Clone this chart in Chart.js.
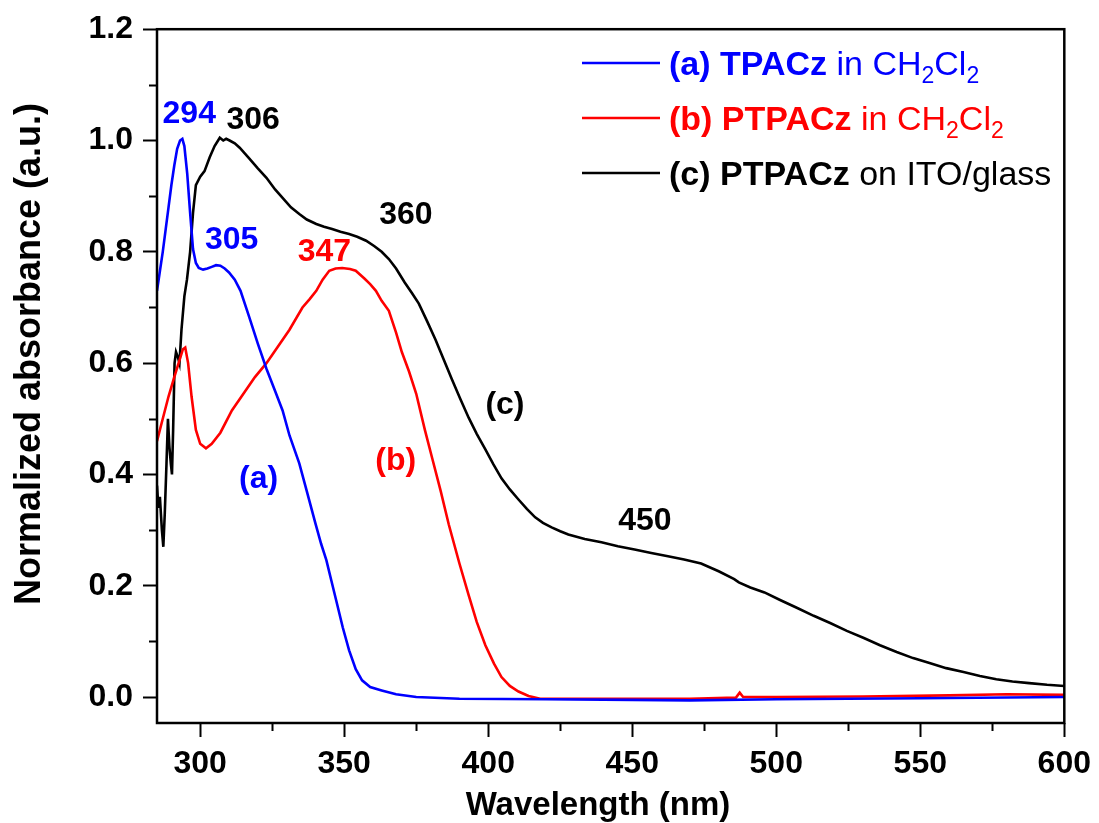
<!DOCTYPE html>
<html>
<head>
<meta charset="utf-8">
<script src="https://cdn.jsdelivr.net/npm/chart.js@4.4.1/dist/chart.umd.min.js"></script>
<style>
    html, body { margin: 0; padding: 0; background: #fff; }
    #wrap { width: 1099px; height: 823px; }
</style>
</head>
<body>
<div id="wrap"><canvas id="chart_abs" width="1099" height="823"></canvas></div>
<script>
// (a) TPACz in CH2Cl2
const wlA = [285, 286, 287, 288, 289, 290, 291, 292, 293, 293.8, 294.5, 295.5, 296.5, 297.5, 298.5, 299.5, 301, 302.5, 304, 305.5,
    307, 308.5, 310, 312, 314, 317, 320, 323, 326, 328.6, 331, 334.4, 337, 340, 342, 343.8, 345.5, 347.2, 349.5, 351.7,
    354, 356.2, 359, 363, 368, 375, 390, 420, 450, 470, 500, 550, 600];
const absA = [0.73, 0.765, 0.80, 0.84, 0.88, 0.92, 0.955, 0.985, 1.0, 1.003, 0.99, 0.94, 0.87, 0.805, 0.78, 0.771, 0.768, 0.77, 0.773, 0.776,
    0.775, 0.77, 0.763, 0.75, 0.73, 0.683, 0.635, 0.59, 0.55, 0.515, 0.47, 0.42, 0.37, 0.312, 0.275, 0.246, 0.21, 0.174, 0.125, 0.084,
    0.05, 0.03, 0.018, 0.012, 0.005, 0, -0.003, -0.004, -0.005, -0.006, -0.004, -0.002, 0];

// (b) PTPACz in CH2Cl2
const wlB = [285, 287, 289, 291, 292.5, 294, 294.8, 295.8, 297, 298.5, 300, 302, 304, 307, 311, 315, 319, 323, 327, 331,
    335.5, 338, 340.3, 342.5, 344.8, 347, 349.3, 352, 354, 357, 359, 361, 363, 365.5, 368, 370, 372.5, 375, 378, 380.5,
    383.5, 386.3, 390, 393.2, 396, 399, 402, 404.6, 407.5, 410.5, 414, 418, 440, 470, 486, 487.3, 488.5, 500, 530, 560,
    580, 600];
const absB = [0.46, 0.5, 0.54, 0.575, 0.6, 0.625, 0.628, 0.6, 0.54, 0.48, 0.455, 0.447, 0.455, 0.475, 0.515, 0.545, 0.575, 0.6, 0.63, 0.66,
    0.70, 0.715, 0.73, 0.75, 0.766, 0.77, 0.771, 0.769, 0.766, 0.752, 0.742, 0.73, 0.712, 0.694, 0.655, 0.62, 0.585, 0.545, 0.48, 0.43,
    0.37, 0.31, 0.24, 0.183, 0.135, 0.093, 0.06, 0.036, 0.02, 0.01, 0.002, -0.003, -0.003, -0.003, -0.001, 0.008, 0, 0, 0.001, 0.003,
    0.005, 0.004];

// (c) PTPACz on ITO/glass
const wlC = [285, 285.5, 286, 286.7, 287.2, 287.7, 288.3, 288.8, 289.3, 289.8, 290.2, 290.6, 291.1, 291.6, 292.3, 292.8, 293.5, 294.5, 295.4, 296.5,
    297.5, 298.5, 300, 301.5, 303.3, 305, 306.8, 308, 309, 310.2, 312, 313.7, 317, 320, 323, 326, 328.6, 331.5, 334.4, 337,
    340.3, 343, 345.8, 348.7, 351.7, 354.5, 357.6, 360.5, 363, 365.5, 368, 371, 373.5, 375.9, 378.8, 381.7, 384.5, 387.3, 390.2, 393.2,
    396, 399, 401.8, 404.6, 407.5, 410.5, 413.4, 416.3, 419, 422, 425, 427.8, 433.5, 439.3, 445, 450.8, 456.6, 462.4, 468, 473.9,
    480, 485.4, 487, 491, 495.9, 501.5, 507.3, 513, 518.7, 524.5, 530.4, 536, 541.8, 547.5, 553.2, 559, 565, 570.7, 576.4, 582,
    587.8, 594, 600];
const absC = [0.38, 0.34, 0.36, 0.30, 0.27, 0.33, 0.42, 0.50, 0.45, 0.42, 0.40, 0.48, 0.60, 0.62, 0.61, 0.60, 0.66, 0.72, 0.75, 0.80,
    0.87, 0.92, 0.935, 0.945, 0.97, 0.99, 1.005, 1.0, 1.003, 1.0, 0.995, 0.987, 0.968, 0.95, 0.933, 0.912, 0.897, 0.88, 0.868, 0.858,
    0.85, 0.845, 0.841, 0.836, 0.832, 0.827, 0.82, 0.81, 0.80, 0.787, 0.77, 0.745, 0.726, 0.707, 0.675, 0.642, 0.607, 0.572, 0.537, 0.502,
    0.473, 0.445, 0.418, 0.393, 0.373, 0.355, 0.338, 0.323, 0.313, 0.305, 0.298, 0.292, 0.284, 0.278, 0.271, 0.265, 0.259, 0.253, 0.247, 0.24,
    0.226, 0.212, 0.206, 0.197, 0.188, 0.174, 0.16, 0.146, 0.133, 0.119, 0.106, 0.093, 0.081, 0.07, 0.061, 0.052, 0.045, 0.038, 0.032, 0.028,
    0.025, 0.022, 0.02];

// axis ticks
const xTicks = [300, 350, 400, 450, 500, 550, 600];
const xMinor = [325, 375, 425, 475, 525, 575];
const yTicks = [0, 0.2, 0.4, 0.6, 0.8, 1.0, 1.2];
const yMinor = [0.1, 0.3, 0.5, 0.7, 0.9, 1.1];

// peak / curve labels (wavelength, absorbance)
const noteText = ['294', '306', '305', '347', '360', '(c)', '(a)', '(b)', '450'];
const noteX = [296.2, 318.4, 310.9, 343.1, 371.4, 405.8, 320.3, 367.9, 454.4];
const noteY = [1.052, 1.041, 0.826, 0.804, 0.871, 0.53, 0.396, 0.429, 0.321];
const noteSeries = [0, 2, 0, 1, 2, 2, 0, 1, 2];

const BLUE = '#0000ff', RED = '#ff0000', BLACK = '#000000';
const colors = [BLUE, RED, BLACK];
const FONT = '"Liberation Sans", Arial, sans-serif';

const pts = (xs, ys) => xs.map((v, i) => ({x: v, y: ys[i]}));

// legend rows: runs of [text, bold, subscript]
const legendRows = [
    [['(a) TPACz', 1, 0], [' in CH', 0, 0], ['2', 0, 1], ['Cl', 0, 0], ['2', 0, 1]],
    [['(b) PTPACz', 1, 0], [' in CH', 0, 0], ['2', 0, 1], ['Cl', 0, 0], ['2', 0, 1]],
    [['(c) PTPACz', 1, 0], [' on ITO/glass', 0, 0]]
];

const overlay = {
    id: 'overlay',
    afterDraw(chart) {
        const {ctx, chartArea: a, scales: {x, y}} = chart;
        ctx.save();
        // frame
        ctx.strokeStyle = '#000';
        ctx.lineWidth = 2.5;
        ctx.strokeRect(a.left, a.top, a.right - a.left, a.bottom - a.top);
        // minor ticks
        ctx.lineWidth = 2;
        ctx.beginPath();
        xMinor.forEach(v => {
            const px = Math.round(x.getPixelForValue(v)) + 0.5;
            ctx.moveTo(px, a.bottom); ctx.lineTo(px, a.bottom + 8);
        });
        yMinor.forEach(v => {
            const py = Math.round(y.getPixelForValue(v)) + 0.5;
            ctx.moveTo(a.left, py); ctx.lineTo(a.left - 8, py);
        });
        ctx.stroke();

        // axis titles
        ctx.fillStyle = '#000';
        ctx.font = 'bold 33px ' + FONT;
        ctx.textAlign = 'center';
        ctx.textBaseline = 'alphabetic';
        ctx.fillText('Wavelength (nm)', 598, 815);
        ctx.save();
        ctx.translate(40, 354);
        ctx.rotate(-Math.PI / 2);
        ctx.font = 'bold 36px ' + FONT;
        ctx.fillText('Normalized absorbance (a.u.)', 0, 0);
        ctx.restore();

        // peak labels
        ctx.font = 'bold 32px ' + FONT;
        noteText.forEach((t, i) => {
            ctx.fillStyle = colors[noteSeries[i]];
            ctx.fillText(t, x.getPixelForValue(noteX[i]), y.getPixelForValue(noteY[i]) + 11.5);
        });

        // legend
        const rowY = [63, 118, 173];
        ctx.textAlign = 'left';
        legendRows.forEach((runs, r) => {
            const c = colors[r];
            ctx.strokeStyle = c;
            ctx.lineWidth = 2.5;
            ctx.beginPath();
            ctx.moveTo(582, rowY[r]); ctx.lineTo(660, rowY[r]);
            ctx.stroke();
            ctx.fillStyle = c;
            let cx = 669;
            const base = rowY[r] + 12;
            runs.forEach(([t, b, sub]) => {
                ctx.font = (b ? 'bold ' : '') + (sub ? '23px ' : '34px ') + FONT;
                ctx.fillText(t, cx, base + (sub ? 8 : 0));
                cx += ctx.measureText(t).width;
            });
        });
        ctx.restore();
    }
};

const ds = (label, xs, ys, color) => ({
    label: label,
    data: pts(xs, ys),
    borderColor: color,
    backgroundColor: color,
    borderWidth: 2.6,
    pointRadius: 0,
    tension: 0,
    fill: false
});

const ctx = document.getElementById('chart_abs').getContext('2d');
const chart = new Chart(ctx, {
    type: 'line',
    data: {
        datasets: [
            ds('(a) TPACz in CH2Cl2', wlA, absA, BLUE),
            ds('(b) PTPACz in CH2Cl2', wlB, absB, RED),
            ds('(c) PTPACz on ITO/glass', wlC, absC, BLACK)
        ]
    },
    options: {
        responsive: false,
        devicePixelRatio: 1,
        animation: false,
        layout: {padding: {top: 28, right: 31, left: 0, bottom: 0}},
        plugins: {legend: {display: false}, tooltip: {enabled: false}},
        scales: {
            x: {
                type: 'linear',
                min: 285,
                max: 600,
                afterBuildTicks: (s) => { s.ticks = xTicks.map(v => ({value: v})); },
                afterFit: (s) => { s.height = 100; },
                border: {display: false},
                grid: {drawOnChartArea: false, tickLength: 14, tickWidth: 2, tickColor: '#000'},
                ticks: {
                    autoSkip: false,
                    maxRotation: 0,
                    padding: 8,
                    color: '#000',
                    font: {family: FONT, size: 32, weight: 'bold'},
                    callback: (v) => String(v)
                }
            },
            y: {
                min: -0.0466,
                max: 1.2,
                afterBuildTicks: (s) => { s.ticks = yTicks.map(v => ({value: v})); },
                afterFit: (s) => { s.width = 157; },
                border: {display: false},
                grid: {drawOnChartArea: false, tickLength: 14, tickWidth: 2, tickColor: '#000'},
                ticks: {
                    autoSkip: false,
                    padding: 10,
                    color: '#000',
                    font: {family: FONT, size: 32, weight: 'bold'},
                    callback: (v) => Number(v).toFixed(1)
                }
            }
        }
    },
    plugins: [overlay]
});
</script>
</body>
</html>
